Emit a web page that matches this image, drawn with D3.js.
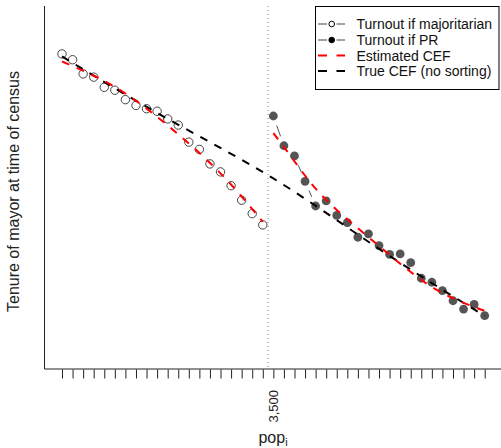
<!DOCTYPE html>
<html><head><meta charset="utf-8">
<script src="https://cdn.jsdelivr.net/npm/d3@7"></script>
<style>body{margin:0;background:#fff}svg{display:block;font-family:"Liberation Sans",Arial,sans-serif}</style>
</head><body><svg id="c" width="501" height="448"></svg>
<script>
// population bins (bin centres) and threshold
const popBins = d3.range(41).map(i => 2525 + 50 * i);
const threshold = 3500;
const tickLabels = ["3,500"];
// Turnout if majoritarian (below threshold, bins 0-19)
const majoritarian = [8.68, 8.52, 8.13, 8.04, 7.76, 7.68, 7.42, 7.26, 7.17, 7.10,
                      6.89, 6.72, 6.25, 6.05, 5.65, 5.43, 5.05, 4.65, 4.28, 3.97];
// Turnout if PR (above threshold, bins 20-40)
const pr = [6.97, 6.15, 5.87, 5.17, 4.49, 4.63, 4.23, 4.03, 3.63, 3.72, 3.40,
            3.16, 3.17, 2.93, 2.50, 2.39, 2.16, 1.88, 1.65, 1.78, 1.47];
// Estimated CEF knots (left / right of threshold)
const estLeftX = [2525, 2775, 3025, 3275, 3475];
const estLeftY = [8.47, 7.77, 6.71, 5.39, 4.05];
const estRightX = [3525, 3625, 3775, 4025, 4275, 4525];
const estRightY = [6.50, 5.72, 4.66, 3.39, 2.26, 1.60];
// True CEF knots
const trueX = [2525, 3025, 3525, 4025, 4525];
const trueY = [8.61, 6.89, 5.25, 3.31, 1.46];
const legendLabels = ["Turnout if majoritarian", "Turnout if PR", "Estimated CEF", "True CEF (no sorting)"];

const svg = d3.select("#c");
const x = d3.scaleLinear().domain([2525, 4525]).range([62, 484.7]);
const y = d3.scaleLinear().domain([0, 10]).range([369, 6]);
const plotTop = 6, plotBottom = 369, plotLeft = 44.5;

// threshold dotted line
svg.append("line").attr("x1", x(threshold)).attr("x2", x(threshold))
  .attr("y1", plotTop).attr("y2", plotBottom)
  .attr("stroke", "#888").attr("stroke-width", 1).attr("stroke-dasharray", "1,3");

// L-shaped box
svg.append("path").attr("d", `M${plotLeft},${plotTop}V${plotBottom}H501`)
  .attr("fill", "none").attr("stroke", "#222").attr("stroke-width", 1);

// x axis ticks
const xAxis = d3.axisBottom(x).tickValues(popBins).tickSize(9).tickFormat("");
const gx = svg.append("g").attr("transform", `translate(0,${plotBottom + 0.5})`).call(xAxis);
gx.select(".domain").remove();
gx.selectAll(".tick line").attr("stroke", "#222");

// threshold tick label
svg.append("text").text(tickLabels[0])
  .attr("transform", `translate(${x(threshold) + 9.5},390) rotate(-90)`)
  .attr("text-anchor", "end").attr("font-size", 13).attr("fill", "#222");

// axis titles
const xt = svg.append("text").attr("x", 273).attr("y", 443).attr("text-anchor", "middle")
  .attr("font-size", 16).attr("fill", "#222");
xt.append("tspan").text("pop");
xt.append("tspan").text("i").attr("font-size", 11).attr("dy", 3);
svg.append("text").text("Tenure of mayor at time of census")
  .attr("transform", `translate(19,${(plotTop + plotBottom) / 2 + 4}) rotate(-90)`)
  .attr("text-anchor", "middle").attr("font-size", 16).attr("fill", "#222");

// type="b" connecting segments
function connectors(xs, ys, color) {
  const gap = 10;
  for (let i = 0; i < xs.length - 1; i++) {
    const x0 = x(xs[i]), y0 = y(ys[i]), x1 = x(xs[i + 1]), y1 = y(ys[i + 1]);
    const d = Math.hypot(x1 - x0, y1 - y0);
    if (d <= 2 * gap) continue;
    const ux = (x1 - x0) / d, uy = (y1 - y0) / d;
    svg.append("line").attr("x1", x0 + ux * gap).attr("y1", y0 + uy * gap)
      .attr("x2", x1 - ux * gap).attr("y2", y1 - uy * gap)
      .attr("stroke", color).attr("stroke-width", 1);
  }
}
const majX = popBins.slice(0, 20), prX = popBins.slice(20);
connectors(majX, majoritarian, "#444");
connectors(prX, pr, "#555");

// points
svg.append("g").selectAll("circle").data(majoritarian).join("circle")
  .attr("cx", (d, i) => x(majX[i])).attr("cy", d => y(d)).attr("r", 4.2)
  .attr("fill", "#fff").attr("stroke", "#444").attr("stroke-width", 1);
svg.append("g").selectAll("circle").data(pr).join("circle")
  .attr("cx", (d, i) => x(prX[i])).attr("cy", d => y(d)).attr("r", 4.4)
  .attr("fill", "#555");

// CEF lines
const line = d3.line().x(d => x(d[0])).y(d => y(d[1])).curve(d3.curveNatural);
svg.append("path").attr("d", line(d3.zip(trueX, trueY)))
  .attr("fill", "none").attr("stroke", "#000").attr("stroke-width", 2).attr("stroke-dasharray", "8,8");
svg.append("path").attr("d", line(d3.zip(estLeftX, estLeftY)))
  .attr("fill", "none").attr("stroke", "#f00").attr("stroke-width", 2).attr("stroke-dasharray", "8,8");
svg.append("path").attr("d", line(d3.zip(estRightX, estRightY)))
  .attr("fill", "none").attr("stroke", "#f00").attr("stroke-width", 2).attr("stroke-dasharray", "8,8");

// legend
const lg = svg.append("g");
lg.append("rect").attr("x", 315.5).attr("y", 6.5).attr("width", 183.5).attr("height", 83)
  .attr("fill", "#fff").attr("stroke", "#000").attr("stroke-width", 1);
const rowY = [24, 40, 55.5, 71];
legendLabels.forEach((lab, i) => {
  const ry = rowY[i];
  if (i < 2) {
    lg.append("line").attr("x1", 318).attr("x2", 327).attr("y1", ry).attr("y2", ry).attr("stroke", "#444");
    lg.append("line").attr("x1", 336.5).attr("x2", 345).attr("y1", ry).attr("y2", ry).attr("stroke", "#444");
    lg.append("circle").attr("cx", 331.7).attr("cy", ry).attr("r", 2.8)
      .attr("fill", i === 0 ? "#fff" : "#000").attr("stroke", "#000");
  } else {
    lg.append("line").attr("x1", 318).attr("x2", 345).attr("y1", ry).attr("y2", ry)
      .attr("stroke", i === 2 ? "#f00" : "#000").attr("stroke-width", 2).attr("stroke-dasharray", "9,9.5");
  }
  lg.append("text").text(lab).attr("x", 356.5).attr("y", ry + 5).attr("font-size", 14).attr("fill", "#111");
});
</script></body></html>
